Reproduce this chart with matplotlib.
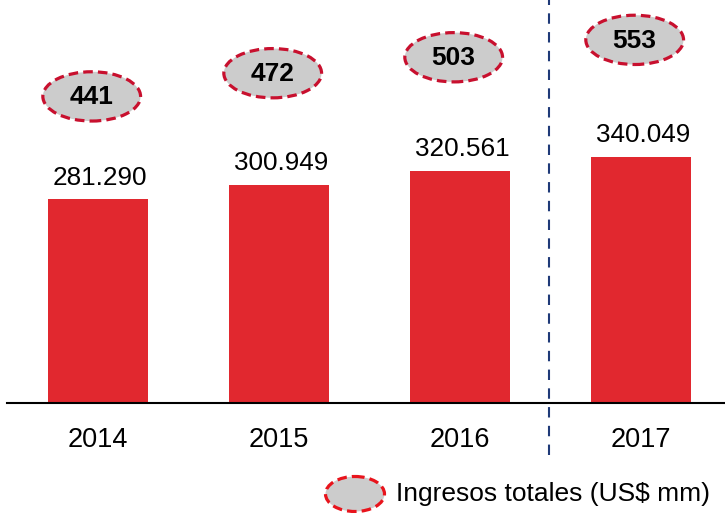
import matplotlib
matplotlib.use("Agg")
import matplotlib.pyplot as plt
from matplotlib.patches import Ellipse

years = ["2014", "2015", "2016", "2017"]
values = [281.290, 300.949, 320.561, 340.049]
value_labels = ["281.290", "300.949", "320.561", "340.049"]
totals = ["441", "472", "503", "553"]
legend_label = "Ingresos totales (US$ mm)"

plt.rcParams["font.family"] = ["Liberation Sans", "DejaVu Sans"]

bar_color = "#e1282f"
oval_edge = "#c8102e"
oval_fill = "#cccccc"

fig = plt.figure(figsize=(7.25, 5.13), dpi=100)
ax = fig.add_axes([7 / 725, 110 / 513, 718 / 725, 403 / 513])

x = list(range(len(years)))
ax.bar(x, values, width=0.55, color=bar_color, zorder=2)
ax.set_xlim(-0.503, 3.464)
ax.set_ylim(0, 556)

for xi, v, lab in zip(x, values, value_labels):
    ax.text(xi + 0.01, v + 13, lab, ha="center", va="bottom", fontsize=18.8)

# ovals with total revenue, stepping up year by year
oval_y = [423, 455, 477, 501]
for xi, oy, t in zip(x, oval_y, totals):
    ax.add_patch(Ellipse((xi - 0.035, oy), 0.54, 68, facecolor=oval_fill,
                         edgecolor=oval_edge, linestyle=(0, (3, 1.6)), lw=2.3,
                         clip_on=False, zorder=3))
    ax.text(xi - 0.035, oy - 1.5, t, ha="center", va="center", fontsize=19,
            fontweight="bold", zorder=4)

# separator before the last year
ax.plot([2.49, 2.49], [-72, 556], color="#1f3a78", lw=1.5,
        linestyle=(0, (5, 4)), clip_on=False, zorder=1)

for s in ["top", "right", "left"]:
    ax.spines[s].set_visible(False)
ax.spines["bottom"].set_linewidth(1.5)
ax.set_yticks([])
ax.set_xticks(x)
ax.set_xticklabels(years, fontsize=19.5)
ax.tick_params(axis="x", length=0, pad=17)

# legend drawn in pixel space
lg = fig.add_axes([0, 0, 1, 1], zorder=-1)
lg.set_xlim(0, 725)
lg.set_ylim(513, 0)
lg.axis("off")
lg.add_patch(Ellipse((355, 494), 59, 35, facecolor=oval_fill, edgecolor="#e8141c",
                     linestyle=(0, (3, 1.6)), lw=2.3))
lg.text(396, 494, legend_label, ha="left", va="center", fontsize=19)

fig.savefig("out.png", dpi=100)
